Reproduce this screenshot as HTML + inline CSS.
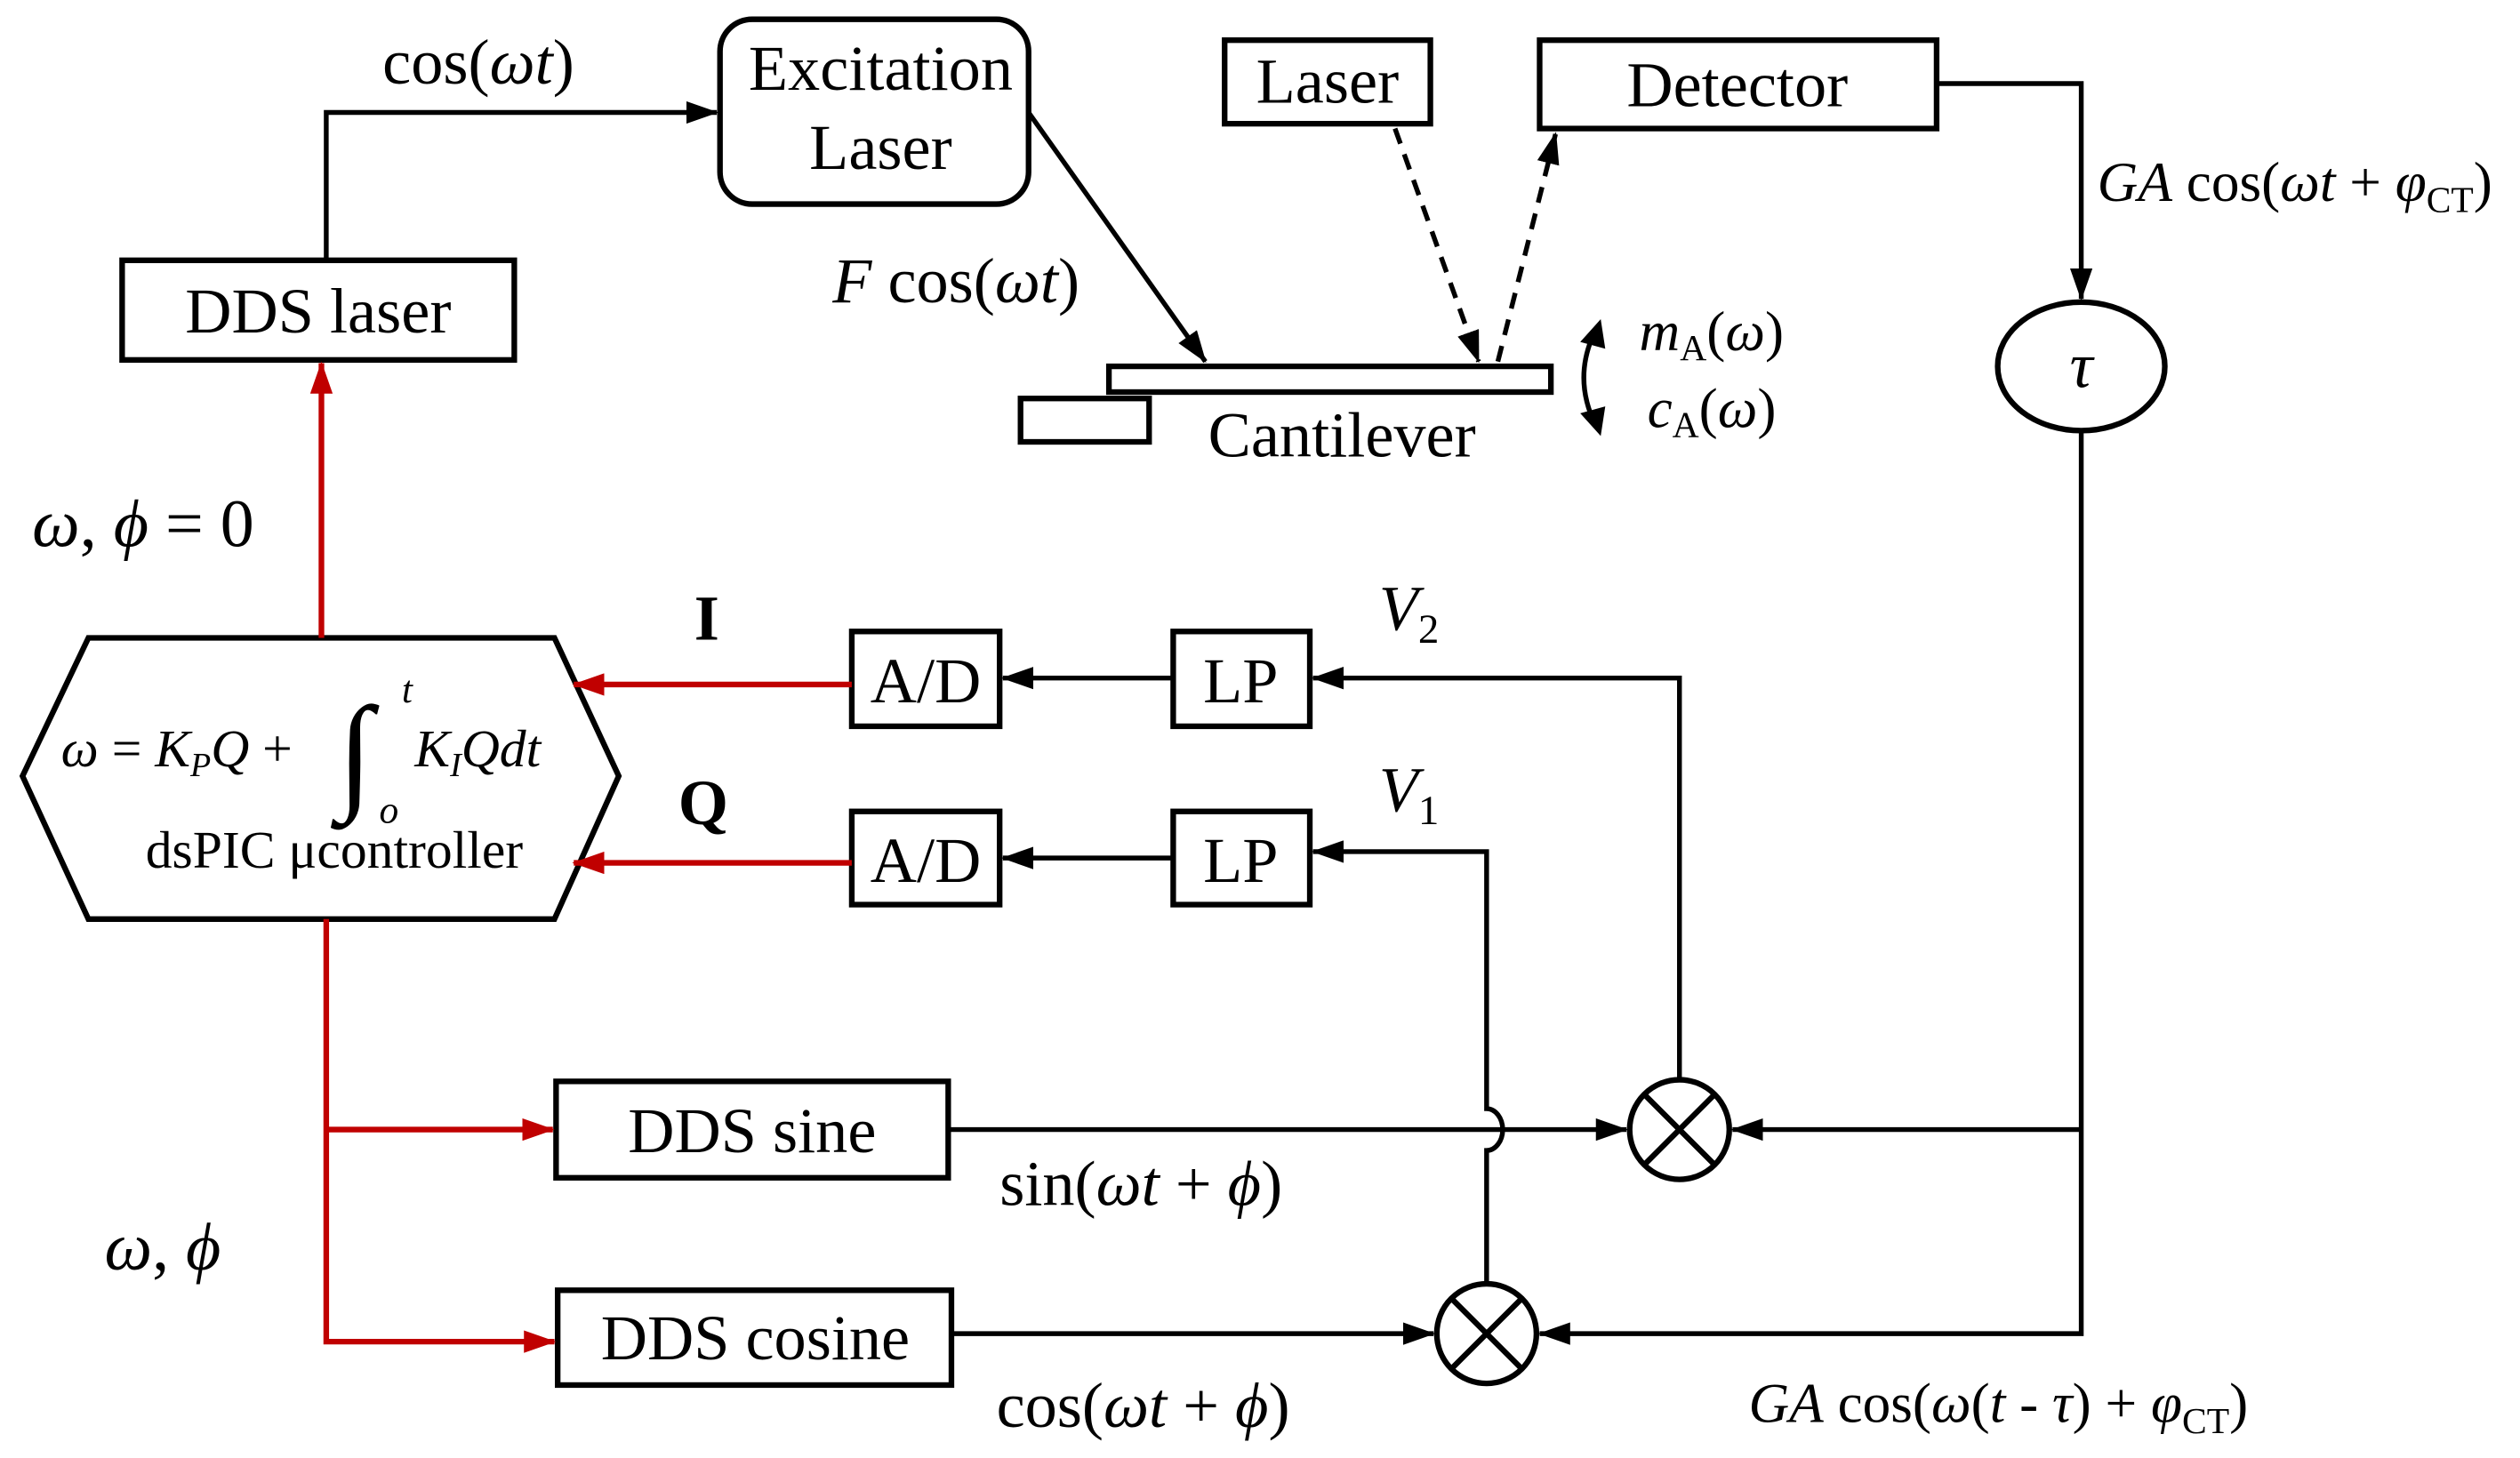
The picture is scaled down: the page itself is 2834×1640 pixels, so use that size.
<!DOCTYPE html>
<html><head><meta charset="utf-8"><style>
html,body{margin:0;padding:0;background:#fff;}
svg{display:block;}
text{font-family:"Liberation Serif",serif;fill:#000;}
</style></head><body>
<svg width="2834" height="1640" viewBox="0 0 1568 907.4" preserveAspectRatio="none" xmlns="http://www.w3.org/2000/svg">
<defs>
<marker id="a" viewBox="0 0 20 14" refX="19" refY="7" markerWidth="20" markerHeight="14" orient="auto" markerUnits="userSpaceOnUse"><path d="M0,0 L20,7 L0,14 z" fill="#000"/></marker>
<marker id="r" viewBox="0 0 20 14" refX="19" refY="7" markerWidth="20" markerHeight="14" orient="auto" markerUnits="userSpaceOnUse"><path d="M0,0 L20,7 L0,14 z" fill="#c00000"/></marker>
</defs>
<g fill="none" stroke="#000" stroke-width="3.5">
<rect x="76" y="162" width="244" height="62"/>
<rect x="448" y="12" width="192" height="115" rx="20"/>
<rect x="762" y="25" width="128" height="52"/>
<rect x="958" y="25" width="247" height="55"/>
<rect x="690" y="228" width="275" height="16"/>
<rect x="635" y="248" width="80" height="27"/>
<ellipse cx="1295" cy="228" rx="52" ry="40"/>
<rect x="730" y="393" width="85" height="59"/>
<rect x="730" y="505" width="85" height="58"/>
<rect x="530" y="393" width="92" height="59"/>
<rect x="530" y="505" width="92" height="58"/>
<rect x="346" y="673" width="244" height="60"/>
<rect x="347" y="803" width="245" height="59"/>
<polygon points="14,483 55,397 345,397 385,483 345,572 55,572"/>
<circle cx="1045" cy="703" r="31"/>
<circle cx="925" cy="830" r="31"/>
<path d="M1023,681 L1067,725 M1067,681 L1023,725 M903,808 L947,852 M947,808 L903,852"/>
</g>
<g fill="none" stroke="#000" stroke-width="3">
<path d="M203,162 V70 H446" marker-end="url(#a)"/>
<path d="M640,70 L750,225" marker-end="url(#a)"/>
<path d="M868,80 L920,225" stroke-dasharray="10,7" marker-end="url(#a)"/>
<path d="M932,225 L968,83" stroke-dasharray="10,7" marker-end="url(#a)"/>
<path d="M1205,52 H1295 V186" marker-end="url(#a)"/>
<path d="M1295,268 V830 H958" marker-end="url(#a)"/>
<path d="M1295,703 H1078" marker-end="url(#a)"/>
<path d="M590,703 H1012" marker-end="url(#a)"/>
<path d="M592,830 H892" marker-end="url(#a)"/>
<path d="M925,799 V716 A10,13 0 0 0 925,690 V530 H817" marker-end="url(#a)"/>
<path d="M1045,672 V422 H817" marker-end="url(#a)"/>
<path d="M730,422 H624" marker-end="url(#a)"/>
<path d="M730,534 H624" marker-end="url(#a)"/>
<path d="M993,205 q-15,30 0,60" />
<path d="M986,212 L995,202 L997,215 z M986,258 L995,268 L997,255 z" fill="#000"/>
</g>
<g fill="none" stroke="#c00000" stroke-width="3.5">
<path d="M200,397 V226" marker-end="url(#r)"/>
<path d="M530,426 H357" marker-end="url(#r)"/>
<path d="M530,537 H357" marker-end="url(#r)"/>
<path d="M203,572 V835 H345" marker-end="url(#r)"/>
<path d="M203,703 H344" marker-end="url(#r)"/>
</g>
<g font-size="40">
<text x="198" y="207" text-anchor="middle">DDS laser</text>
<text x="548" y="56" text-anchor="middle">Excitation</text>
<text x="548" y="105" text-anchor="middle">Laser</text>
<text x="826" y="64" text-anchor="middle">Laser</text>
<text x="1081" y="66" text-anchor="middle">Detector</text>
<text x="835" y="284" text-anchor="middle">Cantilever</text>
<text x="576" y="437" text-anchor="middle">A/D</text>
<text x="576" y="549" text-anchor="middle">A/D</text>
<text x="772" y="437" text-anchor="middle">LP</text>
<text x="772" y="549" text-anchor="middle">LP</text>
<text x="468" y="717" text-anchor="middle">DDS sine</text>
<text x="470" y="846" text-anchor="middle">DDS cosine</text>
<text x="238" y="52">cos(<tspan font-style="italic">ωt</tspan>)</text>
<text x="518" y="188"><tspan font-style="italic">F</tspan> cos(<tspan font-style="italic">ωt</tspan>)</text>
<text x="622" y="750">sin(<tspan font-style="italic">ωt</tspan> + <tspan font-style="italic">ϕ</tspan>)</text>
<text x="620" y="888">cos(<tspan font-style="italic">ωt</tspan> + <tspan font-style="italic">ϕ</tspan>)</text>
<text x="1295" y="241" text-anchor="middle" font-style="italic">τ</text>
<text x="20" y="340" font-size="42"><tspan font-style="italic">ω</tspan>, <tspan font-style="italic">ϕ</tspan> = 0</text>
<text x="65" y="790" font-size="42"><tspan font-style="italic">ω</tspan>, <tspan font-style="italic">ϕ</tspan></text>
<text x="432" y="398" font-weight="bold">I</text>
<text x="422" y="513" font-weight="bold">Q</text>
<text x="858" y="392" font-style="italic">V<tspan font-size="26" dy="8" font-style="normal">2</tspan></text>
<text x="858" y="505" font-style="italic">V<tspan font-size="26" dy="8" font-style="normal">1</tspan></text>
</g>
<g font-size="35">
<text x="1305" y="125"><tspan font-style="italic">GA</tspan> cos(<tspan font-style="italic">ωt</tspan> + <tspan font-style="italic">φ</tspan><tspan font-size="23" dy="7">CT</tspan><tspan dy="-7">)</tspan></text>
<text x="1088" y="885"><tspan font-style="italic">GA</tspan> cos(<tspan font-style="italic">ω</tspan>(<tspan font-style="italic">t</tspan> - <tspan font-style="italic">τ</tspan>) + <tspan font-style="italic">φ</tspan><tspan font-size="23" dy="7">CT</tspan><tspan dy="-7">)</tspan></text>
<text x="1020" y="218"><tspan font-style="italic">m</tspan><tspan font-size="23" dy="6">A</tspan><tspan dy="-6">(</tspan><tspan font-style="italic">ω</tspan>)</text>
<text x="1025" y="266"><tspan font-style="italic">c</tspan><tspan font-size="23" dy="6">A</tspan><tspan dy="-6">(</tspan><tspan font-style="italic">ω</tspan>)</text>
<text x="38" y="477" font-size="33"><tspan font-style="italic">ω</tspan> = <tspan font-style="italic">K</tspan><tspan font-size="21" dy="6" font-style="italic">P</tspan><tspan dy="-6" font-style="italic">Q</tspan> + </text>
<text x="210" y="495" font-size="80" font-style="italic" transform="translate(0,0)">∫</text>
<text x="250" y="437" font-size="24" font-style="italic">t</text>
<text x="236" y="512" font-size="24" font-style="italic">o</text>
<text x="258" y="477" font-size="33" font-style="italic">K<tspan font-size="21" dy="6">I</tspan><tspan dy="-6">Qdt</tspan></text>
<text x="208" y="540" text-anchor="middle" font-size="33">dsPIC μcontroller</text>
</g>
</svg>
</body></html>
